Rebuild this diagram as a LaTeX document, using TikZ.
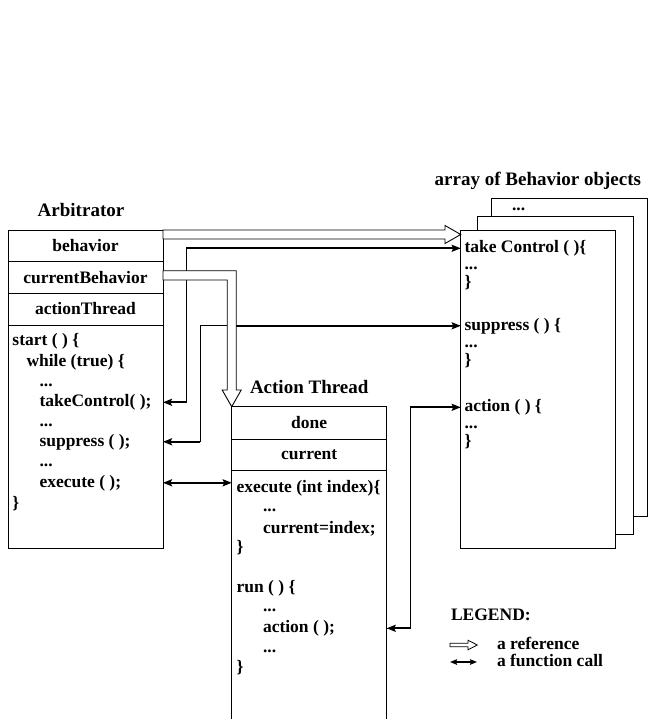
\documentclass[tikz,border=0pt]{standalone}
\usepackage{fontspec}
\setmainfont{Liberation Serif}
\usetikzlibrary{arrows.meta,calc}
\begin{document}
\begin{tikzpicture}[x=1pt,y=-1pt,
  every node/.style={font=\bfseries\fontsize{17.5}{20}\selectfont, inner sep=0pt, outer sep=0pt},
  box/.style={draw, line width=0.9pt, anchor=north west, fill=white, minimum width=155pt},
  txt/.style={anchor=base west},
  ttl/.style={font=\bfseries\fontsize{19}{22}\selectfont},
  wire/.style={line width=0.9pt},
  call/.style={line width=2.2pt},
  callend/.style={-{Stealth[length=9pt,width=7pt,inset=1.5pt]}},
  callboth/.style={{Stealth[length=9pt,width=7pt,inset=1.5pt]}-{Stealth[length=9pt,width=7pt,inset=1.5pt]}},
  smallboth/.style={line width=1.8pt,{Stealth[length=7pt,width=5.5pt,inset=1pt]}-{Stealth[length=7pt,width=5.5pt,inset=1pt]}},
  refarr/.style={draw, fill=white, line width=0.9pt, line join=miter}
]
\useasboundingbox (0,0) rectangle (653,719);
\coordinate (bot) at (0,719);

% ---------- Arbitrator ----------
\node[ttl, anchor=base] (tarb) at (81,217) {Arbitrator};
\node[box, minimum height=31.7pt] (arbbeh) at (8,230) {behavior};
\node[box, minimum height=31.3pt] (arbcur) at (arbbeh.south west) {currentBehavior};
\node[box, minimum height=32pt] (arbact) at (arbcur.south west) {actionThread};
\node[box, minimum height=223pt] (arbbody) at (arbact.south west) {};
\node[txt] (a1) at (12.5,345.5) {start ( ) \{};
\node[txt] (a2) at (26.5,366) {while (true) \{};
\node[txt] (a3) at (39.5,386) {...};
\node[txt] (atc) at (39.5,406.5) {takeControl( );};
\node[txt] (a5) at (39.5,426) {...};
\node[txt] (asp) at (39.5,446) {suppress ( );};
\node[txt] (a7) at (39.5,466) {...};
\node[txt] (aex) at (39.5,487) {execute ( );};
\node[txt] (a9) at (12.5,508) {\}};

% ---------- Action Thread ----------
\node[ttl, anchor=base west] (tath) at (250,393) {Action Thread};
\node[box, minimum height=32.3pt] (atdone) at (231.7,406.7) {done};
\node[box, minimum height=31pt] (atcur) at (atdone.south west) {current};
\draw[wire] (atcur.south west) -- (atcur.south west |- bot);
\draw[wire] (atcur.south east) -- (atcur.south east |- bot);
\node[txt] (t1) at (236.5,492) {execute (int index)\{};
\node[txt] (t2) at (263,511) {...};
\node[txt] (t3) at (263,533) {current=index;};
\node[txt] (t4) at (236.5,552) {\}};
\node[txt] (t5) at (236.5,592) {run ( ) \{};
\node[txt] (t6) at (263,611) {...};
\node[txt] (tact) at (263,632.5) {action ( );};
\node[txt] (t8) at (263,652) {...};
\node[txt] (t9) at (236.5,672) {\}};

% ---------- Behavior objects ----------
\node[ttl, anchor=base east] (tbeh) at (641,186) {array of Behavior objects};
\node[box, minimum width=155.6pt, minimum height=317.7pt] (beh3) at (491.7,198.3) {};
\node[box, minimum width=155.3pt, minimum height=317.3pt] (beh2) at (477.7,216.7) {};
\node[box, minimum width=154.3pt, minimum height=318pt] (beh1) at (460.7,230) {};
\node[txt] (b0) at (512,211) {...};
\node[txt] (btc) at (464.5,252.5) {take Control ( )\{};
\node[txt] (b2) at (464.5,269.5) {...};
\node[txt] (b3) at (464.5,287) {\}};
\node[txt] (bsp) at (464.5,330) {suppress ( ) \{};
\node[txt] (b5) at (464.5,347.5) {...};
\node[txt] (b6) at (464.5,365.5) {\}};
\node[txt] (bact) at (464.5,411.5) {action ( ) \{};
\node[txt] (b8) at (464.5,428.5) {...};
\node[txt] (b9) at (464.5,446) {\}};

% ---------- function calls ----------
\coordinate (xtc) at (186,0);
\coordinate (xsp) at (200,0);
\coordinate (xsp2) at (236,0);
\coordinate (xac) at (410,0);
\draw[wire] (atc.center -| arbbody.east) -- (atc.center -| xtc) -- (btc.center -| xtc) -- (btc.center -| beh1.west);
\draw[call, callend] (atc.center -| xtc) -- (atc.center -| arbbody.east);
\draw[call, callend] (btc.center -| xtc) -- (btc.center -| beh1.west);

\draw[wire] (asp.center -| arbbody.east) -- (asp.center -| xsp) -- (bsp.center -| xsp) -- (bsp.center -| beh1.west);
\draw[call, callend] (asp.center -| xsp) -- (asp.center -| arbbody.east);
\draw[call, callend] (bsp.center -| xsp2) -- (bsp.center -| beh1.west);

\draw[call, callboth] (aex.center -| arbbody.east) -- (aex.center -| atcur.west);

\draw[wire] (tact.center -| atcur.east) -- (tact.center -| xac) -- (bact.center -| xac) -- (bact.center -| beh1.west);
\draw[call, callend] (tact.center -| xac) -- (tact.center -| atcur.east);
\draw[call, callend] (bact.center -| xac) -- (bact.center -| beh1.west);

% ---------- references ----------
\draw[refarr] (arbbeh.north east) -- ($(beh1.north west)+(-15.7,0)$) -- ++(0,-4.5)
  -- ($(beh1.north west)+(0,4.5)$) -- ($(beh1.north west)+(-15.7,13.5)$) -- ++(0,-4.5)
  -- ($(arbbeh.north east)+(0,9)$) -- cycle;

\coordinate (r2a) at ($(arbcur.north east)+(0,9)$);
\coordinate (r2b) at ($(arbcur.north east)+(0,18.3)$);
\coordinate (r2t) at (atdone.north west);
\coordinate (r2r) at ($(r2t)+(4.5,-16.7)$);
\coordinate (r2l) at ($(r2t)+(-4.5,-16.7)$);
\draw[refarr] (r2a) -- (r2a -| r2r) -- (r2r) -- ++(5,0) -- (r2t) -- ($(r2l)+(-5,0)$)
  -- (r2l) -- (r2l |- r2b) -- (r2b) -- cycle;

% ---------- legend ----------
\node[txt] (lg) at (451,620) {LEGEND:};
\node[txt] (lgr) at (497,649.5) {a reference};
\node[txt] (lgf) at (497,666.5) {a function call};
\coordinate (lgr1) at (450,645);
\coordinate (lgr2) at (477.3,645);
\draw[refarr, line width=0.8pt] ($(lgr1)+(0,-1.8)$) -- ($(lgr2)+(-9.3,-1.8)$) -- ++(0,-3)
  -- (lgr2) -- ($(lgr2)+(-9.3,4.8)$) -- ++(0,-3) -- ($(lgr1)+(0,1.8)$) -- cycle;
\coordinate (lgf1) at (450,662);
\coordinate (lgf2) at (477,662);
\draw[smallboth] (lgf1) -- (lgf2);
\end{tikzpicture}
\end{document}
